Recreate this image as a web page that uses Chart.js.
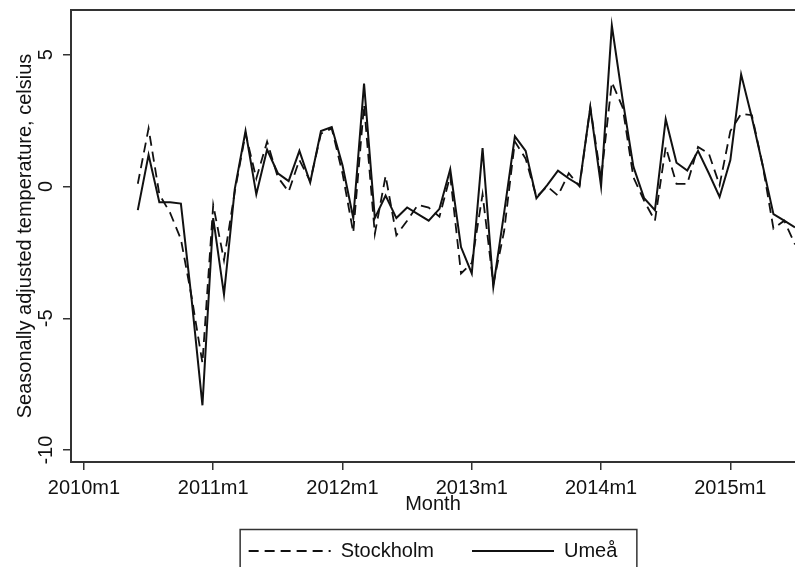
<!DOCTYPE html>
<html>
<head>
<meta charset="utf-8">
<script src="https://cdn.jsdelivr.net/npm/chart.js@4"></script>
<style>
  html, body { margin: 0; padding: 0; background: #fff; }
</style>
</head>
<body>
<canvas id="tempChart" width="795" height="567"></canvas>
<script>
const months = [
  '2010m6', '2010m7', '2010m8', '2010m9', '2010m10', '2010m11', '2010m12',
  '2011m1', '2011m2', '2011m3', '2011m4', '2011m5', '2011m6', '2011m7', '2011m8', '2011m9', '2011m10', '2011m11', '2011m12',
  '2012m1', '2012m2', '2012m3', '2012m4', '2012m5', '2012m6', '2012m7', '2012m8', '2012m9', '2012m10', '2012m11', '2012m12',
  '2013m1', '2013m2', '2013m3', '2013m4', '2013m5', '2013m6', '2013m7', '2013m8', '2013m9', '2013m10', '2013m11', '2013m12',
  '2014m1', '2014m2', '2014m3', '2014m4', '2014m5', '2014m6', '2014m7', '2014m8', '2014m9', '2014m10', '2014m11', '2014m12',
  '2015m1', '2015m2', '2015m3', '2015m4', '2015m5', '2015m6', '2015m7'
];
const stockholm = [
  0.1, 2.2, -0.3, -1.0, -2.0, -4.2, -6.7,
  -0.7, -2.8, -0.2, 2.0, 0.3, 1.7, 0.35, -0.2, 1.0, 0.2, 2.0, 2.2,
  0.5, -1.75, 3.1, -1.8, 0.4, -1.85, -1.3, -0.7, -0.8, -1.15, 0.4, -3.3,
  -2.9, -0.3, -3.7, -1.7, 1.7, 1.05, -0.4, 0.0, -0.35, 0.5, 0.0, 3.0,
  0.3, 3.95, 3.0, 0.35, -0.55, -1.3, 1.5, 0.1, 0.1, 1.5, 1.25, 0.05,
  2.1, 2.75, 2.7, 0.8, -1.6, -1.3, -2.2
];
const umea = [
  -0.9, 1.2, -0.6, -0.6, -0.65, -4.3, -8.3,
  -1.2, -4.1, -0.1, 2.1, -0.3, 1.4, 0.5, 0.2, 1.35, 0.15, 2.1, 2.25,
  0.8, -1.2, 3.9, -1.2, -0.35, -1.2, -0.8, -1.05, -1.3, -0.85, 0.65, -2.3,
  -3.3, 1.45, -3.8, -1.0, 1.9, 1.35, -0.45, 0.05, 0.6, 0.3, 0.05, 3.0,
  0.0, 6.1, 3.3, 0.75, -0.45, -0.9, 2.55, 0.9, 0.6, 1.35, 0.5, -0.4,
  1.0, 4.25, 2.6, 0.8, -1.05, -1.3, -1.55
];
const xTickLabels = ['2010m1', '2011m1', '2012m1', '2013m1', '2014m1', '2015m1'];
const yTickValues = [-10, -5, 0, 5];

// months counted from 2010m1
function monthIndex(label) {
  const parts = label.split('m').map(Number);
  return (parts[0] - 2010) * 12 + parts[1] - 1;
}

const toPoints = values => values.map((v, i) => ({ x: monthIndex(months[i]), y: v }));

const ink = '#111';
const frame = '#333';
const font = { family: '"Liberation Sans", Arial, sans-serif', size: 20 };

// rotated y tick labels, legend frame and top edge of the plot region
const stataDecor = {
  id: 'stataDecor',
  afterDraw(chart) {
    const ctx = chart.ctx;
    const area = chart.chartArea;
    const yScale = chart.scales.y;
    ctx.save();
    ctx.strokeStyle = frame;
    ctx.lineWidth = 2;
    ctx.beginPath();
    ctx.moveTo(area.left, area.top);
    ctx.lineTo(area.right, area.top);
    ctx.stroke();

    ctx.fillStyle = ink;
    ctx.font = '20px "Liberation Sans", Arial, sans-serif';
    ctx.textAlign = 'center';
    ctx.textBaseline = 'middle';
    yTickValues.forEach(v => {
      ctx.save();
      ctx.translate(46, yScale.getPixelForValue(v));
      ctx.rotate(-Math.PI / 2);
      ctx.fillText(String(v), 0, 0);
      ctx.restore();
    });

    const boxes = chart.legend.legendHitBoxes;
    if (boxes && boxes.length) {
      const first = boxes[0];
      const last = boxes[boxes.length - 1];
      ctx.lineWidth = 1.5;
      const left = first.left - 8.5;
      const right = last.left + last.width + 19.5;
      ctx.strokeRect(left, first.top - 11.5, right - left, 60);
    }
    ctx.restore();
  }
};

const ctx = document.getElementById('tempChart').getContext('2d');
const tempChart = new Chart(ctx, {
  type: 'line',
  data: {
    datasets: [{
      label: 'Stockholm',
      data: toPoints(stockholm),
      borderColor: ink,
      borderWidth: 1.8,
      borderDash: [10, 6],
      pointRadius: 0,
      tension: 0
    }, {
      label: 'Umeå',
      data: toPoints(umea),
      borderColor: ink,
      borderWidth: 2,
      pointRadius: 0,
      tension: 0
    }]
  },
  options: {
    responsive: false,
    animation: false,
    devicePixelRatio: 1,
    layout: { padding: { top: 10, right: 0, left: 0, bottom: -4 } },
    scales: {
      x: {
        type: 'linear',
        min: -1.2,
        max: 66,
        afterBuildTicks: scale => {
          scale.ticks = xTickLabels.map(l => ({ value: monthIndex(l) }));
        },
        afterFit: scale => { scale.height = 41; },
        ticks: {
          autoSkip: false,
          maxRotation: 0,
          padding: 6,
          color: ink,
          font: font,
          callback: value => xTickLabels.find(l => monthIndex(l) === value)
        },
        grid: { drawOnChartArea: false, drawTicks: true, tickLength: 8, color: frame, lineWidth: 1.5 },
        border: { display: true, color: frame, width: 2 },
        title: { display: true, text: 'Month', color: ink, font: font, padding: { top: 0, bottom: -13 } }
      },
      y: {
        min: -10.45,
        max: 6.69,
        afterBuildTicks: scale => {
          scale.ticks = yTickValues.map(v => ({ value: v }));
        },
        afterFit: scale => { scale.width = 71; },
        ticks: { color: 'rgba(0,0,0,0)', font: { size: 8 } },
        grid: { drawOnChartArea: false, drawTicks: true, tickLength: 8, color: frame, lineWidth: 1.5 },
        border: { display: true, color: frame, width: 2 },
        title: {
          display: true,
          text: 'Seasonally adjusted temperature, celsius',
          color: ink,
          font: font,
          padding: { top: 13, bottom: 0 }
        }
      }
    },
    plugins: {
      tooltip: { enabled: false },
      legend: {
        position: 'bottom',
        fullSize: false,
        labels: {
          usePointStyle: true,
          pointStyle: 'line',
          pointStyleWidth: 82,
          boxWidth: 82,
          padding: 38,
          color: ink,
          font: font,
          generateLabels: chart => {
            const items = Chart.defaults.plugins.legend.labels.generateLabels(chart);
            return items.map(item => {
              const ds = chart.data.datasets[item.datasetIndex];
              item.lineDash = ds.borderDash || [];
              item.lineWidth = ds.borderWidth;
              item.strokeStyle = ds.borderColor;
              item.pointStyle = 'line';
              return item;
            });
          }
        }
      }
    }
  },
  plugins: [stataDecor]
});
</script>
</body>
</html>
